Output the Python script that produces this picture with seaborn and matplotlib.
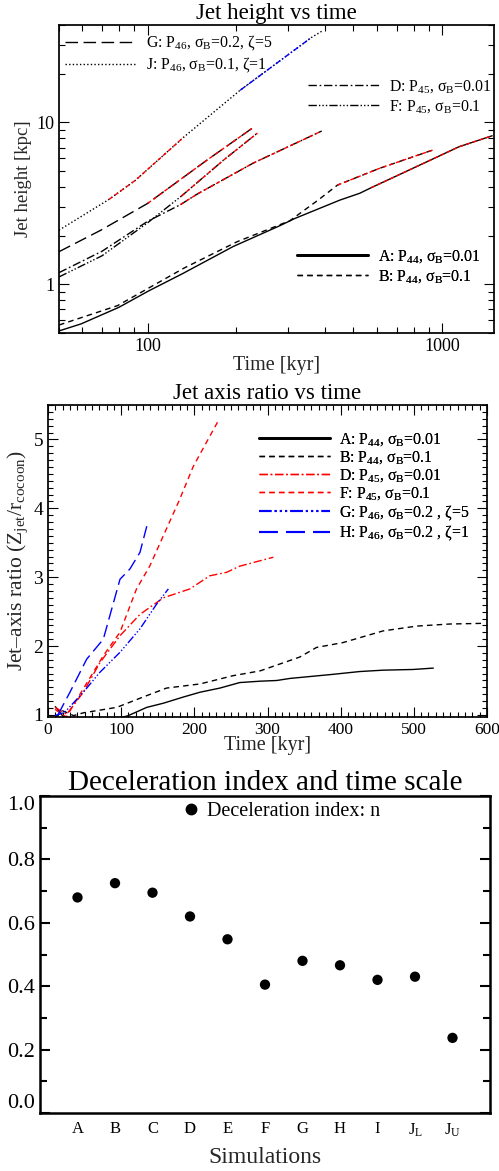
import numpy as np
import pandas as pd
import matplotlib
matplotlib.use("Agg")
import matplotlib.pyplot as plt
import seaborn as sns
from matplotlib.lines import Line2D
from matplotlib.ticker import MultipleLocator, NullFormatter, FixedLocator

# ---------------- data: panel 1 (jet height vs time, log-log) ----------------
tA = [50, 59.4, 79.8, 100.8, 131, 195, 281, 316, 449, 525, 574, 794, 1140, 1478]
hA = [0.515, 0.569, 0.72, 0.91, 1.16, 1.71, 2.30, 2.55, 3.31, 3.65, 3.95, 5.2, 7.07, 8.27]
tB = [50, 79, 133, 201, 304, 379, 441, 612, 940]
hB = [0.56, 0.738, 1.26, 1.83, 2.47, 3.31, 4.1, 5.2, 6.8]
tD = [50, 70, 100, 129, 147, 228, 390]
hD = [1.18, 1.6, 2.45, 3.1, 3.6, 5.6, 8.85]
tF = [50, 70, 100, 130, 181, 236]
hF = [1.11, 1.5, 2.4, 3.5, 5.85, 8.6]
tG = [50, 69.4, 100, 159, 226]
hG = [1.59, 2.16, 3.16, 5.85, 9.18]
tJ = [50, 74, 91, 133, 206, 360, 394]
hJ = [2.16, 3.35, 4.4, 8.15, 15.8, 33.5, 37]
# fit ranges (overlaid segments)
fitA = (574, 1478)
fitB = (441, 940)
fitD = (129, 390)
fitF = (130, 236)
fitG = (100, 226)
fitJ_red = (74, 133)
fitJ_blue = (206, 360)

# ---------------- data: panel 2 (axis ratio vs time) ----------------
t2A = [10, 22, 40, 80, 109.7, 135, 157.6, 185, 207.8, 235, 262, 290, 312.6, 330.7, 390, 426, 458, 499, 526.6]
r2A = [1.12, 0.96, 0.9, 0.9, 0.99, 1.11, 1.17, 1.26, 1.33, 1.39, 1.47, 1.49, 1.50, 1.53, 1.59, 1.63, 1.65, 1.66, 1.68]
t2B = [10, 20, 35, 48, 94, 130, 162, 207.8, 253, 290, 344, 367, 403, 458, 504, 549, 595]
r2B = [0.96, 1.06, 0.99, 1.03, 1.11, 1.26, 1.39, 1.45, 1.57, 1.64, 1.84, 1.98, 2.05, 2.22, 2.29, 2.32, 2.33]
t2D = [9.6, 25.5, 48.3, 71, 98.4, 125.7, 157.6, 194, 221, 244, 262, 308]
r2D = [1.11, 1.01, 1.33, 1.76, 2.15, 2.46, 2.70, 2.83, 3.02, 3.07, 3.16, 3.29]
t2F = [9.6, 25, 48.3, 75.6, 98.4, 121, 139, 157.6, 180, 198.6, 232.7]
r2F = [1.08, 0.97, 1.38, 1.86, 2.2, 2.83, 3.16, 3.6, 4.13, 4.61, 5.27]
t2G = [9.6, 23, 48.3, 71, 98.4, 125.7, 148.5, 164.5]
r2G = [0.99, 1.04, 1.33, 1.62, 1.91, 2.25, 2.61, 2.83]
t2H = [14, 30, 52.9, 75.6, 98.4, 112, 125.7, 135]
r2H = [1.01, 1.33, 1.81, 2.10, 2.97, 3.12, 3.36, 3.74]

# ---------------- data: panel 3 (deceleration index) ----------------
sims = ["A", "B", "C", "D", "E", "F", "G", "H", "I", "J$_\\mathregular{L}$", "J$_\\mathregular{U}$"]
n_index = [0.68, 0.725, 0.695, 0.62, 0.548, 0.405, 0.48, 0.466, 0.42, 0.43, 0.237]

# ---------------- style ----------------
sns.set_theme(style="ticks")
plt.rcParams["font.family"] = ["Liberation Serif", "DejaVu Serif"]
plt.rcParams["mathtext.fontset"] = "custom"
plt.rcParams["mathtext.rm"] = "Liberation Serif"
plt.rcParams["mathtext.it"] = "Liberation Serif:italic"
plt.rcParams["mathtext.default"] = "regular"
plt.rcParams["axes.edgecolor"] = "black"
plt.rcParams["xtick.color"] = "black"
plt.rcParams["ytick.color"] = "black"
plt.rcParams["text.color"] = "black"

fig = plt.figure(figsize=(4.99, 11.71), dpi=100)
W, H = 499.0, 1171.0

def add_ax(l, r, t, b):
    return fig.add_axes([l / W, 1 - b / H, (r - l) / W, (b - t) / H])

ax1 = add_ax(59, 494, 25, 333)
ax2 = add_ax(48, 487, 405, 717)
ax3 = add_ax(40, 490, 796, 1113)

def line(ax, x, y, color, ls, lw=1.0):
    sns.lineplot(x=x, y=y, ax=ax, color=color, linestyle=ls, linewidth=lw,
                 sort=False, estimator=None, legend=False)

def seg(x, y, rng):
    x = np.asarray(x, float); y = np.asarray(y, float)
    m = (x >= rng[0] - 1e-9) & (x <= rng[1] + 1e-9)
    return x[m], y[m]

ls_long = (0, (9, 4))
ls_dash = (0, (4, 3))
ls_dashdot = (0, (6, 2, 1.2, 2))
ls_dash3dot = (0, (6, 1.5, 1, 1.5, 1, 1.5, 1, 1.5))
ls_dot = (0, (1, 1.6))
ls_fit = (0, (3, 2))

# ---------------- panel 1 ----------------
ax1.set_xscale("log"); ax1.set_yscale("log")
line(ax1, tA, hA, "black", "-")
line(ax1, tB, hB, "black", ls_dash)
line(ax1, tD, hD, "black", ls_dashdot)
line(ax1, tF, hF, "black", ls_dash3dot)
line(ax1, tG, hG, "black", ls_long)
line(ax1, tJ, hJ, "black", ls_dot)
for (tx, hy, rng) in [(tA, hA, fitA), (tB, hB, fitB), (tD, hD, fitD), (tF, hF, fitF),
                      (tG, hG, fitG), (tJ, hJ, fitJ_red)]:
    sx, sy = seg(tx, hy, rng)
    line(ax1, sx, sy, "red", ls_fit)
sx, sy = seg(tJ, hJ, fitJ_blue)
line(ax1, sx, sy, "blue", (0, (4, 1.5, 1, 1.5)))

ax1.set_xlim(50, 1500); ax1.set_ylim(0.5, 40)
ax1.xaxis.set_major_locator(FixedLocator([100, 1000]))
ax1.set_xticklabels(["100", "1000"])
ax1.yaxis.set_major_locator(FixedLocator([1, 10]))
ax1.set_yticklabels(["1", "10"])
ax1.xaxis.set_minor_formatter(NullFormatter())
ax1.yaxis.set_minor_formatter(NullFormatter())
ax1.tick_params(which="both", direction="in", top=True, right=True, labelsize=13, width=0.8)
ax1.tick_params(which="major", length=7)
ax1.tick_params(which="minor", length=4)
ax1.set_title("Jet height vs time", fontsize=16.5, pad=4)
ax1.set_xlabel("Time [kyr]", fontsize=14.5, labelpad=1)
ax1.set_ylabel("Jet height [kpc]", fontsize=13.5, labelpad=3)

fs_leg = 11.4
def make_leg(ax, entries, anchor, spacing=0.2):
    hs = [Line2D([], [], color=c, linestyle=s, lw=lw) for (c, s, lw, _) in entries]
    labs = [e[3] for e in entries]
    leg = ax.legend(hs, labs, loc="center left", bbox_to_anchor=anchor, frameon=False,
                    fontsize=fs_leg, handlelength=4.5, handletextpad=0.6, borderpad=0,
                    borderaxespad=0, labelspacing=spacing)
    ax.add_artist(leg)
    return leg

make_leg(ax1, [("black", ls_long, 1.0, "G: P$_{46}$, σ$_B$=0.2, ζ=5"),
               ("black", ls_dot, 1.0, "J: P$_{46}$, σ$_B$=0.1, ζ=1")], (0.014, 0.905))
make_leg(ax1, [("black", ls_dashdot, 1.0, "D: P$_{45}$, σ$_B$=0.01"),
               ("black", ls_dash3dot, 1.0, "F: P$_{45}$, σ$_B$=0.1")], (0.572, 0.768))
make_leg(ax1, [("black", "-", 2.0, "A: P$_{44}$, σ$_B$=0.01"),
               ("black", ls_dash, 1.0, "B: P$_{44}$, σ$_B$=0.1")], (0.547, 0.216))

# ---------------- panel 2 ----------------
line(ax2, t2A, r2A, "black", "-")
line(ax2, t2B, r2B, "black", ls_dash)
line(ax2, t2D, r2D, "red", ls_dashdot)
line(ax2, t2F, r2F, "red", ls_dash)
line(ax2, t2G, r2G, "blue", ls_dash3dot)
line(ax2, t2H, r2H, "blue", ls_long)
ax2.set_xlim(0, 600); ax2.set_ylim(0.97, 5.5)
ax2.xaxis.set_major_locator(MultipleLocator(100))
ax2.xaxis.set_minor_locator(MultipleLocator(10))
ax2.yaxis.set_major_locator(MultipleLocator(1))
ax2.yaxis.set_minor_locator(MultipleLocator(0.1))
ax2.tick_params(which="both", direction="in", top=True, right=True, labelsize=12.5, width=0.8)
ax2.tick_params(axis="y", labelsize=14)
ax2.tick_params(which="major", length=7)
ax2.tick_params(which="minor", length=3.5)
ax2.set_title("Jet axis ratio vs time", fontsize=16.5, pad=4)
ax2.set_xlabel("Time [kyr]", fontsize=14.5, labelpad=-1)
ax2.set_ylabel("Jet–axis ratio (Z$_{jet}$/r$_{cocoon}$)", fontsize=15.5, labelpad=2)
make_leg(ax2, [("black", "-", 2.0, "A: P$_{44}$, σ$_B$=0.01"),
               ("black", ls_dash, 1.0, "B: P$_{44}$, σ$_B$=0.1"),
               ("red", ls_dashdot, 1.0, "D: P$_{45}$, σ$_B$=0.01"),
               ("red", ls_dash, 1.0, "F: P$_{45}$, σ$_B$=0.1"),
               ("blue", ls_dash3dot, 1.5, "G: P$_{46}$, σ$_B$=0.2 , ζ=5"),
               ("blue", ls_long, 1.5, "H: P$_{46}$, σ$_B$=0.2 , ζ=1")], (0.48, 0.737), spacing=0.08)

# ---------------- panel 3 ----------------
pos = np.arange(len(sims))
df3 = pd.DataFrame({"pos": pos, "n": n_index})
sns.scatterplot(data=df3, x="pos", y="n", ax=ax3, color="black", s=55, edgecolor="none",
                label="Deceleration index: n", legend=False)
ax3.set_xlim(-1, len(sims))
ax3.set_ylim(0, 1.0)
ax3.set_xticks(pos)
ax3.set_xticklabels(sims, fontsize=12)
ax3.tick_params(axis="x", length=0, pad=6)
ax3.yaxis.set_minor_locator(MultipleLocator(0.1))
ax3.set_yticks(np.arange(0, 1.01, 0.2))
ax3.set_yticklabels(["0.0", "0.2", "0.4", "0.6", "0.8", "1.0"])
ax3.tick_params(axis="y", which="both", direction="in", right=True, labelsize=16, width=1.5)
ax3.tick_params(axis="y", which="major", length=7)
ax3.tick_params(axis="y", which="minor", length=5)
for sp in ax3.spines.values():
    sp.set_linewidth(1.8)
yl = ax3.get_yticklabels()
yl[0].set_va("bottom"); yl[-1].set_va("top")
ax3.set_title("Deceleration index and time scale", fontsize=21, pad=4)
ax3.set_xlabel("Simulations", fontsize=17, labelpad=6)
ax3.set_ylabel("")
h3 = [Line2D([], [], color="black", marker="o", linestyle="none", markersize=7.5)]
ax3.legend(h3, ["Deceleration index: n"], loc="center left", bbox_to_anchor=(0.317, 0.95),
           frameon=False, fontsize=14.5, handlelength=0.8, handletextpad=0.4,
           borderpad=0, borderaxespad=0)

fig.savefig("out.png", dpi=100)
